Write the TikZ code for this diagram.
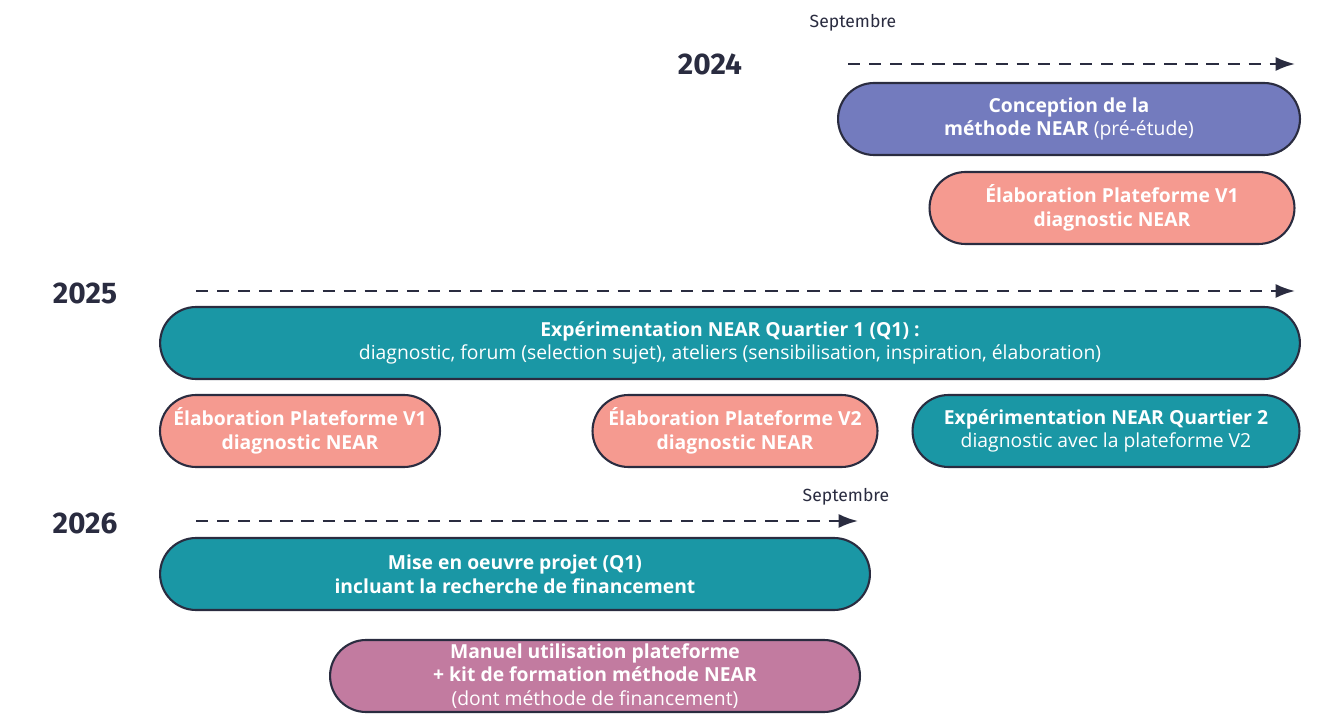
\documentclass[tikz,border=0pt]{standalone}
\usepackage{fontspec}
\setmainfont{Open Sans}
\newfontfamily\yearfont{Fira Sans}
\usetikzlibrary{positioning,arrows.meta}
\definecolor{inkdark}{HTML}{2A2C40}
\definecolor{nearblue}{HTML}{737BBE}
\definecolor{nearsalmon}{HTML}{F59A90}
\definecolor{nearteal}{HTML}{1A97A5}
\definecolor{nearmauve}{HTML}{C27BA0}
\tikzset{
  phase/.style={draw=inkdark, line width=1.2pt, rounded corners=0.72cm, minimum height=1.44cm,
    text=white, align=center, font=\fontsize{11}{13.5}\selectfont, inner sep=0pt},
  year/.style={font=\yearfont\bfseries\fontsize{17}{20}\selectfont, text=inkdark},
  month/.style={font=\yearfont\fontsize{10}{12}\selectfont, text=inkdark},
  timeline/.style={draw=inkdark, line width=1.3pt, dash pattern=on 7pt off 5pt, -{Latex[length=11pt,width=8pt]}}
}
\begin{document}
\begin{tikzpicture}[x=0.02cm,y=-0.02cm]
            
            \useasboundingbox (0,0) rectangle (1332,722);
            
            % Years
            
            \node[year] (y24) at (710,64) {2024};
            \node[year] (y25) at (85,293) {2025};
            \node[year] (y26) at (85,523) {2026};
            \node[month] (sep24) at (853,23) {Septembre};
            \node[month] (sep26) at (846,497) {Septembre};
            
            % Timelines
            
            \coordinate (a24) at (848,64);  \coordinate (b24) at (1295,64);
            \coordinate (a25) at (196,291); \coordinate (b25) at (1295,291);
            \coordinate (a26) at (196,521); \coordinate (b26) at (858,521);
            \draw[timeline] (a24) -- (b24);
            \draw[timeline] (a25) -- (b25);
            \draw[timeline] (a26) -- (b26);
            
            % Phases
            
            \node[phase, fill=nearblue, minimum width=9.24cm] (concept) at (1069,119)
              {\textbf{Conception de la}\\\textbf{méthode NEAR} (pré-étude)};
            \node[phase, fill=nearsalmon, minimum width=7.3cm] (plat1a) at (1112,208)
              {\textbf{Élaboration Plateforme V1}\\\textbf{diagnostic NEAR}};
            \node[phase, fill=nearteal, minimum width=22.8cm] (exq1) at (730,343)
              {\textbf{Expérimentation NEAR Quartier 1 (Q1) :}\\diagnostic, forum (selection sujet), ateliers (sensibilisation, inspiration, élaboration)};
            \node[phase, fill=nearsalmon, minimum width=5.6cm] (plat1b) at (300,431)
              {\textbf{Élaboration Plateforme V1}\\\textbf{diagnostic NEAR}};
            \node[phase, fill=nearsalmon, minimum width=5.7cm] (plat2) at (735,431)
              {\textbf{Élaboration Plateforme V2}\\\textbf{diagnostic NEAR}};
            \node[phase, fill=nearteal, minimum width=7.74cm] (exq2) at (1106,431)
              {\textbf{Expérimentation NEAR Quartier 2}\\diagnostic avec la plateforme V2};
            \node[phase, fill=nearteal, minimum width=14.2cm] (mise) at (515,574)
              {\textbf{Mise en oeuvre projet (Q1)}\\\textbf{incluant la recherche de financement}};
            \node[phase, fill=nearmauve, minimum width=10.6cm] (manuel) at (595,676)
              {\textbf{Manuel utilisation plateforme}\\\textbf{+ kit de formation méthode NEAR}\\(dont méthode de financement)};
            
\end{tikzpicture}
\end{document}
